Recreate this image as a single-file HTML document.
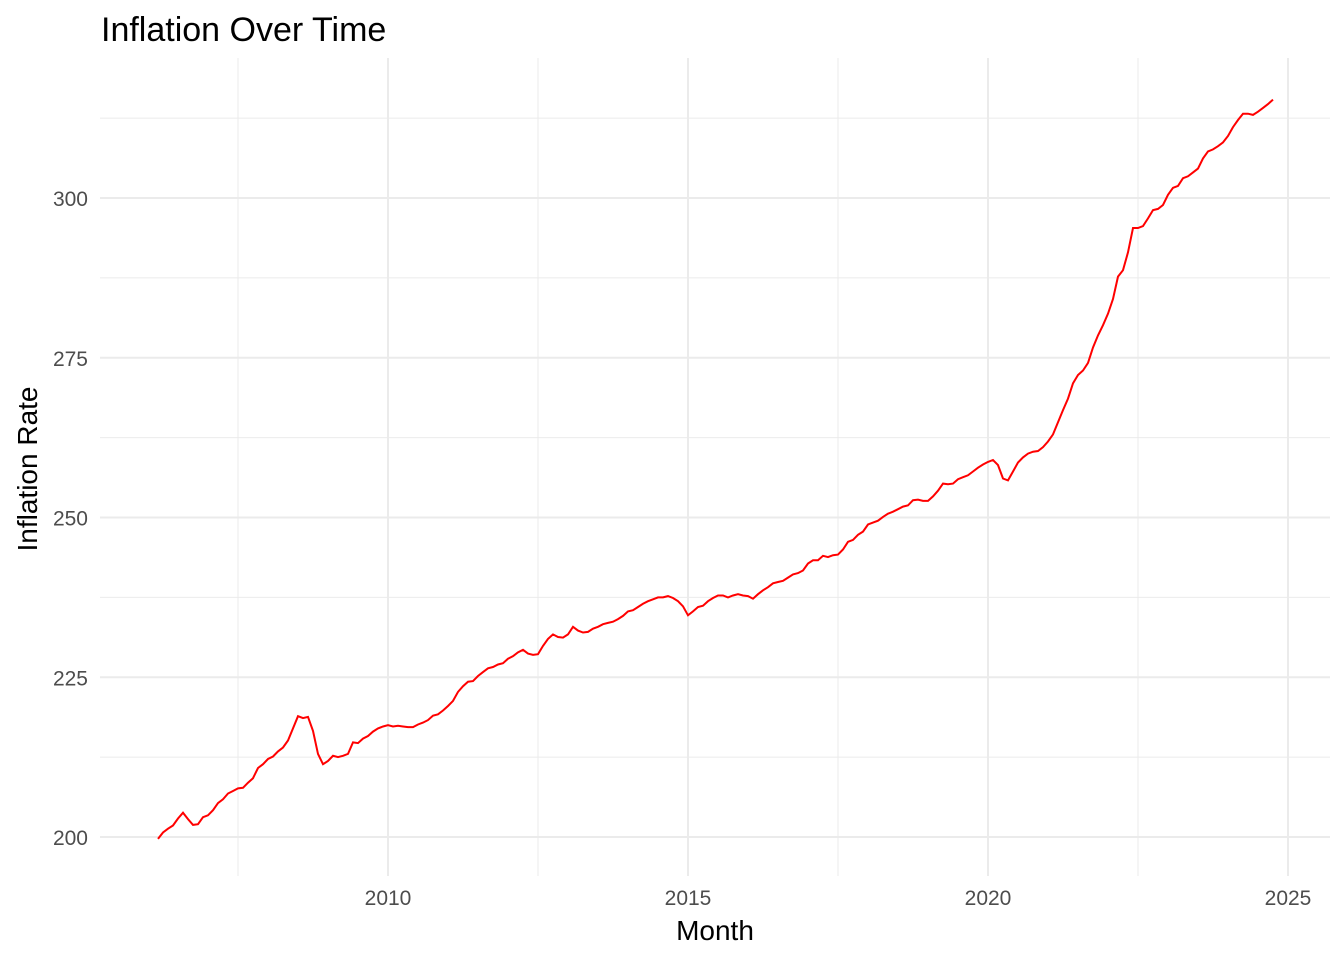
<!DOCTYPE html>
<html><head><meta charset="utf-8"><style>
body{margin:0;background:#fff;}
svg{display:block;font-family:"Liberation Sans",Arial,sans-serif;}
</style></head><body>
<svg id="chart" width="1344" height="960">
<text x="101" y="41" font-size="34" fill="#000">Inflation Over Time</text>
<g id="grid"></g><g id="ticks"></g>
<path id="line" fill="none" stroke="#ff0000" stroke-width="2"/>
<text x="715" y="940" font-size="28" text-anchor="middle" fill="#000">Month</text>
<text transform="translate(37,469) rotate(-90)" font-size="28" text-anchor="middle" fill="#000">Inflation Rate</text>
</svg>
<script>
const startYear = 2006, startMonth = 3;
const values = [
199.7,200.7,201.3,201.8,202.9,203.8,202.8,201.9,202.0,203.1,
203.4,204.2,205.3,205.9,206.8,207.2,207.6,207.7,208.5,209.2,210.8,211.4,
212.2,212.6,213.4,214.0,215.1,217.0,218.9,218.6,218.8,216.6,213.0,211.4,
211.9,212.7,212.5,212.7,213.0,214.8,214.7,215.4,215.8,216.5,217.0,217.3,
217.5,217.3,217.4,217.3,217.2,217.2,217.6,217.9,218.3,219.0,219.2,219.8,
220.5,221.3,222.7,223.6,224.3,224.4,225.2,225.8,226.4,226.6,227.0,227.2,
227.9,228.3,228.9,229.3,228.7,228.5,228.6,229.9,231.0,231.7,231.3,231.2,
231.7,232.9,232.3,232.0,232.1,232.6,232.9,233.3,233.5,233.7,234.1,234.6,
235.3,235.5,236.0,236.5,236.9,237.2,237.5,237.5,237.7,237.4,236.9,236.1,
234.7,235.3,236.0,236.2,236.9,237.4,237.8,237.8,237.5,237.8,238.0,237.8,
237.7,237.3,238.0,238.6,239.1,239.7,239.9,240.1,240.6,241.1,241.3,241.7,
242.8,243.3,243.3,244.0,243.8,244.1,244.2,245.0,246.2,246.5,247.3,247.8,
248.9,249.2,249.5,250.1,250.6,250.9,251.3,251.7,251.9,252.7,252.8,252.6,
252.6,253.3,254.2,255.3,255.2,255.3,256.0,256.3,256.6,257.2,257.8,258.3,
258.7,259.0,258.2,256.1,255.8,257.2,258.6,259.4,260.0,260.3,260.4,261.0,
261.9,263.0,264.9,266.8,268.6,271.0,272.3,273.0,274.2,276.6,278.5,280.1,
281.9,284.2,287.7,288.7,291.5,295.3,295.3,295.6,296.8,298.1,298.3,298.9,
300.5,301.6,301.9,303.1,303.4,304.0,304.6,306.2,307.3,307.6,308.1,308.7,
309.7,311.1,312.2,313.2,313.2,313.0,313.5,314.1,314.7,315.4];
const xTicks = [2010,2015,2020,2025];
const xMinor = [2007.5,2012.5,2017.5,2022.5];
const yTicks = [200,225,250,275,300];
const yMinor = [212.5,237.5,262.5,287.5,312.5];
const NS="http://www.w3.org/2000/svg";
const x = t => 388 + (t-2010)*60;
const y = v => 837 - (v-200)*6.39;
const L=100,R=1330,T=58,B=876;
const grid=document.getElementById('grid'), ticks=document.getElementById('ticks');
function ln(x1,y1,x2,y2,w,name){const e=document.createElementNS(NS,'line');
e.setAttribute('x1',x1);e.setAttribute('y1',y1);e.setAttribute('x2',x2);e.setAttribute('y2',y2);
e.setAttribute('stroke','#ebebeb');e.setAttribute('stroke-width',w);


grid.appendChild(e);}
function tx(px,py,s,anchor,name){const e=document.createElementNS(NS,'text');
e.setAttribute('x',px);e.setAttribute('y',py);e.setAttribute('font-size','21');e.setAttribute('fill','#4d4d4d');e.setAttribute('text-anchor',anchor);e.textContent=s;


ticks.appendChild(e);}
yMinor.forEach(v=>ln(L,y(v),R,y(v),1,'y-minor-gridline'));
xMinor.forEach(t=>ln(x(t),T,x(t),B,1,'x-minor-gridline'));
yTicks.forEach(v=>{ln(L,y(v),R,y(v),2,'y-major-gridline');tx(88,y(v)+8,String(v),'end','y-tick-label');});
xTicks.forEach(t=>{ln(x(t),T,x(t),B,2,'x-major-gridline');tx(x(t),905,String(t),'middle','x-tick-label');});
let d='';
values.forEach((v,i)=>{const t=startYear+(startMonth-1+i)/12;d+=(i?'L':'M')+x(t).toFixed(1)+','+y(v).toFixed(1);});
document.getElementById('line').setAttribute('d',d);
</script>
</body></html>
